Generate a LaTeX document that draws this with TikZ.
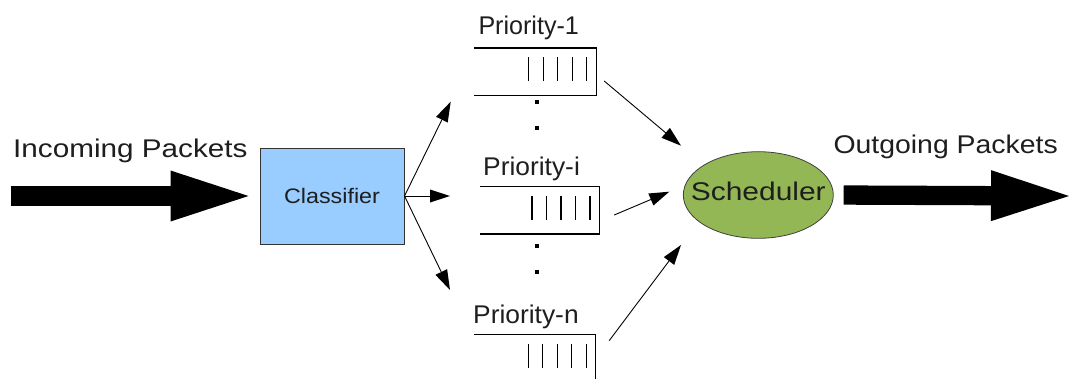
\documentclass[tikz,border=0pt]{standalone}
\usepackage{fontspec}
\setmainfont{Liberation Sans}
\usetikzlibrary{arrows.meta,shapes.geometric}
\definecolor{clsblue}{RGB}{153,204,255}
\definecolor{schgreen}{RGB}{146,183,84}
\definecolor{ink}{RGB}{30,30,30}
\begin{document}
\begin{tikzpicture}[x=1pt,y=-1pt,
  lbl/.style={inner sep=0pt, anchor=base west, text=ink,
              font=\fontsize{25.6}{30}\selectfont},
  fat/.style={line width=19.3pt,
              -{Triangle[length=78pt,width=51pt,line width=0pt]}},
  thin/.style={line width=0.9pt,
              -{Triangle[length=20pt,width=13pt,line width=0pt]}},
  queue/.style={minimum height=47pt, inner sep=0pt},
  qline/.style={line width=1.2pt},
  bar/.style={line width=1.3pt},
  dot/.style={fill=black}]

\clip (0,0) rectangle (1070,378);

% classifier and scheduler
\node[draw=black!80, line width=1pt, fill=clsblue,
      minimum width=144pt, minimum height=96pt, inner sep=0pt,
      text=ink, font=\fontsize{21}{24}\selectfont,
      text height=15pt, text depth=1pt] (cls) at (332,196)
      {\scalebox{1.11}[1]{Classifier}};

\node[ellipse, draw=black!75, line width=0.8pt, fill=schgreen,
      minimum width=150pt, minimum height=86.6pt, inner sep=0pt,
      text=ink, font=\fontsize{25.6}{30}\selectfont,
      text height=18.3pt, text depth=8.3pt] (sch) at (758.3,195)
      {\makebox[0pt]{\scalebox{1.17}[1]{Scheduler}}};

% the three priority queues (open on the left)
\node[queue, minimum width=122pt]   (q1) at (535,71.7) {};
\node[queue, minimum width=119.3pt] (qi) at (539.65,210.3) {};
\node[queue, minimum width=121pt]   (qn) at (535,358.5) {};

\foreach \q in {q1,qi,qn}{
  \draw[qline] (\q.north west) -- (\q.north east)
               -- (\q.south east) -- (\q.south west);
  \foreach \d in {-67.5,-53,-38.5,-24,-9.5}
    \draw[bar] ([shift={(\d,-14.5)}]\q.east) -- ([shift={(\d,9.5)}]\q.east);
}

% labels
\node[lbl] (lin)  at (13,157)     {\scalebox{1.16}[1]{Incoming Packets}};
\node[lbl] (lout) at (833.3,153.3){\scalebox{1.11}[1]{Outgoing Packets}};
\node[lbl] (l1)   at (478.3,34)   {\scalebox{0.98}[1]{Priority-1}};
\node[lbl] (li)   at (483,175)    {\scalebox{1.03}[1]{Priority-i}};
\node[lbl] (ln)   at (473,323.3)  {\scalebox{1.03}[1]{Priority-n}};

% vertical ellipsis between queues
\foreach \y in {101.7,128.3}
  \fill[dot] (534.5,\y-2) rectangle ++(4,4);
\foreach \y in {245.7,271.7}
  \fill[dot] (534.7,\y-2) rectangle ++(4,4);

% connector end points
\coordinate (inS)  at (11,196);
\coordinate (outE) at (1069,196);
\coordinate (c1) at (450.7,101.7);
\coordinate (c2) at (450,196);
\coordinate (c3) at (450,290);
\coordinate (s1) at ([shift={(8,9.3)}]q1.east);
\coordinate (si) at ([shift={(14.7,4.7)}]qi.east);
\coordinate (sn) at ([shift={(13.5,-17.8)}]qn.east);
\coordinate (t1) at ([shift={(-77.3,-49.3)}]sch.center);
\coordinate (ti) at ([shift={(-89,-3.3)}]sch.center);
\coordinate (tn) at ([shift={(-77.3,50)}]sch.center);

% packet flow
\draw[fat, shorten >=11pt] (inS) -- (cls.west);
\draw[fat, shorten <=10pt] (sch.east) -- (outE);

\foreach \c in {c1,c2,c3}
  \draw[thin] (cls.east) -- (\c);

\draw[thin] (s1) -- (t1);
\draw[thin] (si) -- (ti);
\draw[thin] (sn) -- (tn);
\end{tikzpicture}
\end{document}
